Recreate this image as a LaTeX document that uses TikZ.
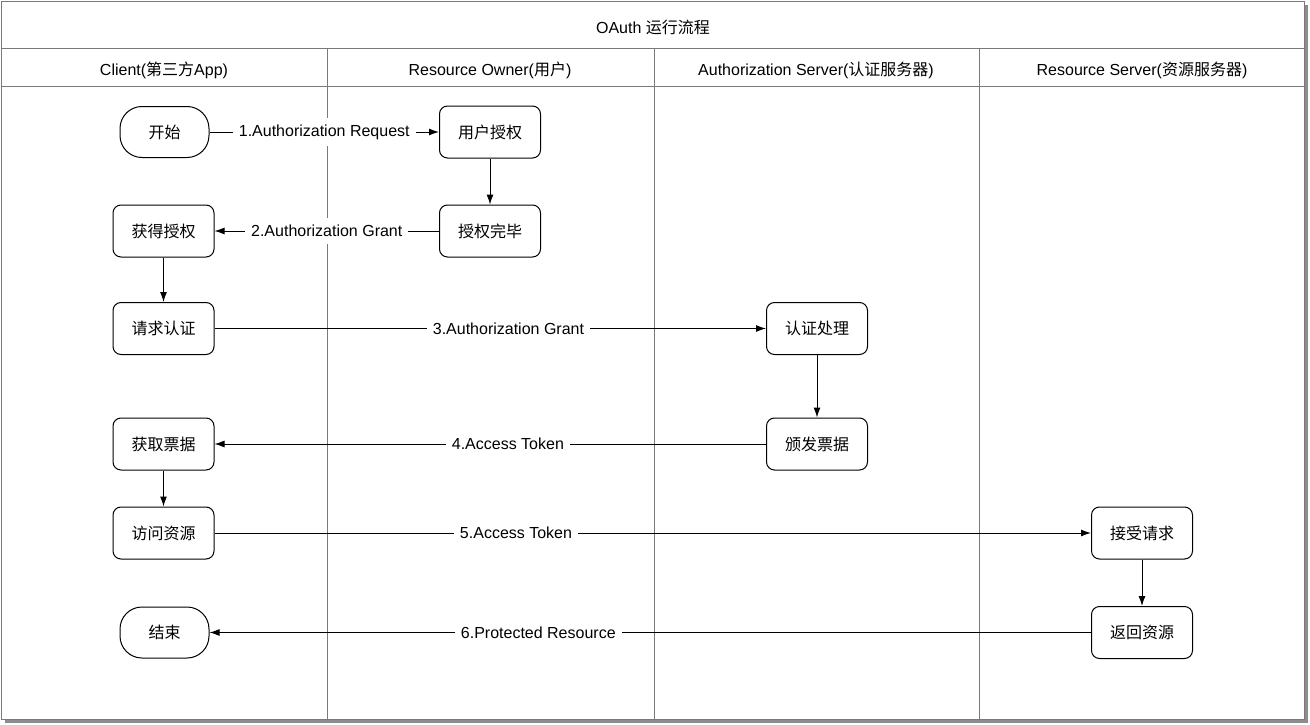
\documentclass[tikz,border=0pt]{standalone}
\usepackage{fontspec}
\setmainfont{Liberation Sans}
\newfontfamily\zhfont{Noto Sans CJK SC}
\newcommand{\zh}[1]{{\zhfont #1}}
\usetikzlibrary{arrows.meta,positioning}

\tikzset{
  box/.style={draw,line width=1pt,rounded corners=8pt,minimum width=101pt,minimum height=52pt,inner sep=0pt},
  term/.style={box,rounded corners=22pt,minimum width=89pt,minimum height=51pt},
  lbl/.style={fill=white,inner xsep=6pt,inner ysep=7pt},
  lane/.style={draw=black!52,line width=1pt},
  flow/.style={->,line width=1pt}
}

\begin{document}
\begin{tikzpicture}[x=1pt,y=-1pt,>={Latex[length=10pt,width=7pt]},font=\fontsize{16}{19}\selectfont]
  \useasboundingbox (0,0) rectangle (1310,725);
  % frame and shadow
  \fill[black!45] (5,5) rectangle (1308,723);
  \draw[lane,fill=white] (1.5,1.5) rectangle (1304.5,719.5);
  \draw[lane] (1.5,48.5) -- (1304.5,48.5);
  \draw[lane] (1.5,87) -- (1304.5,87);
  \foreach \x in {327,654,979}
    \draw[lane] (\x,48.5) -- (\x,719.5);

  % titles
  \node (title) at (653,27) {OAuth \zh{运行流程}};
  \node (hclient) at (164,70) {Client(\zh{第三方}App)};
  \node (howner) at (490,70) {Resource Owner(\zh{用户})};
  \node (hauth) at (816,70) {Authorization Server(\zh{认证服务器})};
  \node (hres) at (1142,70) {Resource Server(\zh{资源服务器})};

  % steps
  \node[term] (start) at (164.5,132) {\zh{开始}};
  \node[box] (ask) at (490,132) {\zh{用户授权}};
  \node[box] (granted) at (490,231) {\zh{授权完毕}};
  \node[box] (gotgrant) at (163.5,231) {\zh{获得授权}};
  \node[box] (request) at (163.5,328.5) {\zh{请求认证}};
  \node[box] (check) at (817,328.5) {\zh{认证处理}};
  \node[box] (issue) at (817,444) {\zh{颁发票据}};
  \node[box] (gettoken) at (163.5,444) {\zh{获取票据}};
  \node[box] (access) at (163.5,533) {\zh{访问资源}};
  \node[box] (accept) at (1142,533) {\zh{接受请求}};
  \node[box] (serve) at (1142,632.5) {\zh{返回资源}};
  \node[term] (stop) at (164.5,632.5) {\zh{结束}};

  % connectors
  \draw[flow] (start) -- node[lbl] {1.Authorization Request} (ask);
  \draw[flow] (ask) -- (granted);
  \draw[flow] (granted) -- node[lbl] {2.Authorization Grant} (gotgrant);
  \draw[flow] (gotgrant) -- (request);
  \draw[flow] (request) -- node[lbl,pos=0.533] {3.Authorization Grant} (check);
  \draw[flow] (check) -- (issue);
  \draw[flow] (issue) -- node[lbl,pos=0.468] {4.Access Token} (gettoken);
  \draw[flow] (gettoken) -- (access);
  \draw[flow] (access) -- node[lbl,pos=0.344] {5.Access Token} (accept);
  \draw[flow] (accept) -- (serve);
  \draw[flow] (serve) -- node[lbl,pos=0.627] {6.Protected Resource} (stop);
\end{tikzpicture}
\end{document}
